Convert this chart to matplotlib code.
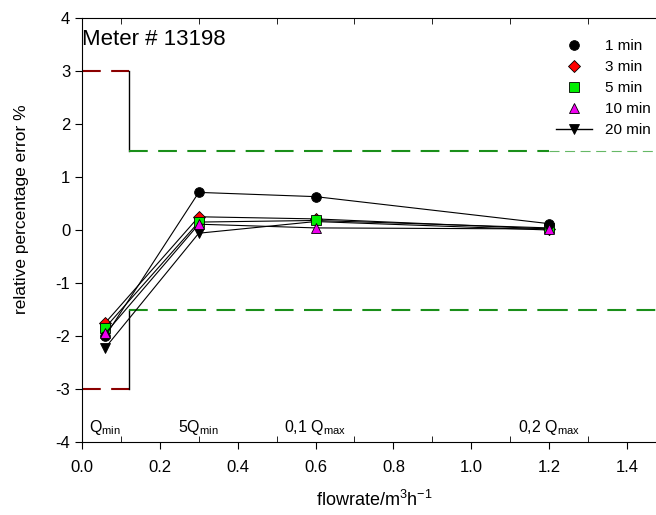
import matplotlib
matplotlib.use('Agg')
import matplotlib.pyplot as plt
from matplotlib.lines import Line2D
from matplotlib.ticker import MultipleLocator

plt.rcParams['font.family'] = ['Liberation Sans', 'DejaVu Sans']
plt.rcParams['mathtext.fontset'] = 'custom'
plt.rcParams['mathtext.rm'] = 'Liberation Sans'
plt.rcParams['mathtext.it'] = 'Liberation Sans'
plt.rcParams['axes.unicode_minus'] = False

flow = [0.06, 0.3, 0.6, 1.2]
err_1min = [-2.0, 0.71, 0.63, 0.12]
err_3min = [-1.75, 0.25, 0.21, 0.02]
err_5min = [-1.84, 0.15, 0.18, 0.04]
err_10min = [-1.95, 0.11, 0.04, 0.02]
err_20min = [-2.22, -0.06, 0.16, 0.0]

series = ['1 min', '3 min', '5 min', '10 min', '20 min']
markers = ['o', 'D', 's', '^', 'v']
colors = ['black', 'red', '#00ee00', '#ee00ee', 'black']

# limits of permissible error
lim_low_x = [0.0, 0.12]
lim_low = 3.0
lim_high_x = [0.12, 1.2]
lim_high_ext = [1.2, 1.5]
lim_high = 1.5

point_labels = ['Q$_{\\mathrm{min}}$', '5Q$_{\\mathrm{min}}$',
                '0,1 Q$_{\\mathrm{max}}$', '0,2 Q$_{\\mathrm{max}}$']

fig = plt.figure(figsize=(6.56, 5.15), dpi=100)
ax = fig.add_axes([0.125, 0.1417, 0.89, 0.8233])

darkred = '#8b0000'
green = '#1a8f1a'
for s in (1, -1):
    ax.plot(lim_low_x, [s * lim_low] * 2, color=darkred, lw=1.5, dashes=(9, 5))
    ax.plot([0.12, 0.12], [s * lim_low, s * lim_high], color='black', lw=1)
    ax.plot(lim_high_x, [s * lim_high] * 2, color=green, lw=1.5, dashes=(9, 5))
ax.plot(lim_high_ext, [lim_high] * 2, color='#66b866', lw=0.8, dashes=(9, 5))
ax.plot(lim_high_ext, [-lim_high] * 2, color=green, lw=1.5, dashes=(9, 5))

data = [err_1min, err_3min, err_5min, err_10min, err_20min]
zorders = [6, 4, 5, 7, 3]
for vals, m, c, z in zip(data, markers, colors, zorders):
    ax.plot(flow, vals, color='black', lw=0.8, marker=m, ms=7 if m != 'D' else 6,
            markerfacecolor=c, markeredgecolor='black', markeredgewidth=0.6,
            zorder=z)

handles = []
for i, (m, c) in enumerate(zip(markers, colors)):
    ls = '-' if i == 4 else 'none'
    handles.append(Line2D([], [], color='black', lw=1, linestyle=ls, marker=m,
                          ms=7 if m != 'D' else 6, markerfacecolor=c,
                          markeredgecolor='black', markeredgewidth=0.6))
ax.legend(handles, series, loc='upper right', bbox_to_anchor=(0.997, 0.982),
          frameon=False, fontsize=11, handlelength=2.4, labelspacing=0.45,
          handletextpad=0.8)

for x, t in zip(flow, point_labels):
    ax.text(x, -3.72, t, ha='center', va='center', fontsize=11.5)

ax.text(0.0, 3.6, 'Meter # 13198', fontsize=16, ha='left', va='center')

ax.set_xlim(0, 1.5)
ax.set_ylim(-4, 4)
ax.xaxis.set_minor_locator(MultipleLocator(0.1))
ax.yaxis.set_major_locator(MultipleLocator(1))
ax.set_xticks([0.0, 0.2, 0.4, 0.6, 0.8, 1.0, 1.2, 1.4])
ax.set_xticklabels(['0.0', '0.2', '0.4', '0.6', '0.8', '1.0', '1.2', '1.4'])
ax.tick_params(axis='x', which='major', direction='out', length=5, labelsize=12,
               top=False, pad=8)
ax.tick_params(axis='x', which='minor', direction='in', length=4, top=True)
ax.tick_params(axis='y', which='major', direction='out', length=5, labelsize=12)
ax.spines['right'].set_visible(False)

ax.set_xlabel('flowrate/m$^3$h$^{-1}$', fontsize=13, labelpad=11)
ax.set_ylabel('relative percentage error %', fontsize=12.5)
ax.yaxis.set_label_coords(-0.09, 0.55)

fig.savefig('out.png', dpi=100)
